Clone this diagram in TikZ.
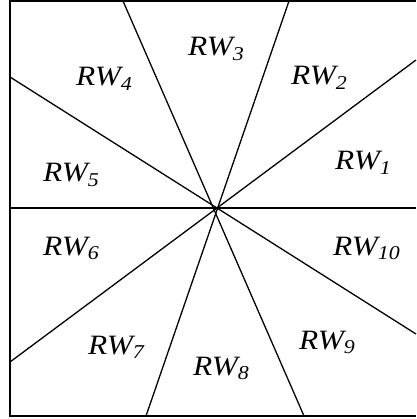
\documentclass[tikz,border=0pt]{standalone}
\usepackage{fontspec}
\setmainfont{Liberation Serif}
\begin{document}
\begin{tikzpicture}[x=1pt,y=-1pt,
  frame/.style={line width=1.7pt},
  ray/.style={line width=1.3pt},
  lab/.style={anchor=base west,inner sep=0pt,xscale=1.12,font=\fontsize{28}{32}\selectfont\itshape}]
\useasboundingbox (0,0) rectangle (416,419);
\coordinate (c) at (216,209);
\coordinate (p1) at (416,60);
\coordinate (p2) at (289,1);
\coordinate (p3) at (123,1);
\coordinate (p4) at (10,77);
\coordinate (p5) at (10,208);
\coordinate (p6) at (10,362);
\coordinate (p7) at (146,416);
\coordinate (p8) at (304,416);
\coordinate (p9) at (416,334);
\coordinate (p10) at (416,208);
\coordinate (tr) at (416,1);
\coordinate (tl) at (10,1);
\coordinate (bl) at (10,416);
\coordinate (br) at (416,416);
\draw[frame] (tr) -- (tl) -- (bl) -- (br);
\draw[ray] (p1) -- (p6);
\draw[ray] (p2) -- (p7);
\draw[ray] (p3) -- (p8);
\draw[ray] (p4) -- (p9);
\draw[ray] (p5) -- (p10);
\node[lab] (l1) at (335,170) {RW\textsubscript{1}};
\node[lab] (l2) at (291,85) {RW\textsubscript{2}};
\node[lab] (l3) at (188,56) {RW\textsubscript{3}};
\node[lab] (l4) at (76,86) {RW\textsubscript{4}};
\node[lab] (l5) at (43,182) {RW\textsubscript{5}};
\node[lab] (l6) at (43,255) {RW\textsubscript{6}};
\node[lab] (l7) at (88,354) {RW\textsubscript{7}};
\node[lab] (l8) at (193,375) {RW\textsubscript{8}};
\node[lab] (l9) at (299,349) {RW\textsubscript{9}};
\node[lab] (l10) at (333,255) {RW\textsubscript{10}};
\end{tikzpicture}
\end{document}
